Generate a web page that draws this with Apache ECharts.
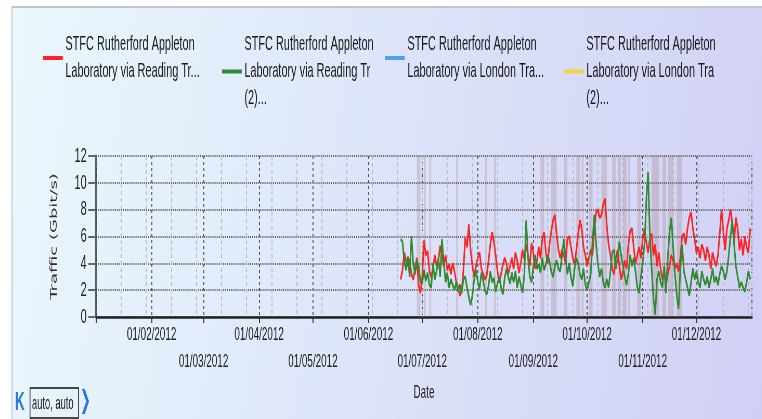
<!DOCTYPE html>
<html>
<head>
<meta charset="utf-8">
<script src="https://cdn.jsdelivr.net/npm/echarts@6/dist/echarts.min.js"></script>
<style>
html, body { margin: 0; padding: 0; background: #fff; overflow: hidden; }
#main { width: 1465px; height: 419px; transform: scaleX(0.52); transform-origin: 0 0; }
</style>
</head>
<body>
<div id="main"></div>
<script>
// the original screenshot is squeezed sideways, so the chart is drawn wide and scaled in x
var S = 0.52;

var seriesNames = [
    'STFC Rutherford Appleton Laboratory via Reading Tr...',
    'STFC Rutherford Appleton Laboratory via Reading Tr (2)...',
    'STFC Rutherford Appleton Laboratory via London Tra...',
    'STFC Rutherford Appleton Laboratory via London Tra (2)...'
];
var legendLabels = [
    'STFC Rutherford Appleton\nLaboratory via Reading Tr...',
    'STFC Rutherford Appleton\nLaboratory via Reading Tr\n(2)...',
    'STFC Rutherford Appleton\nLaboratory via London Tra...',
    'STFC Rutherford Appleton\nLaboratory via London Tra\n(2)...'
];
var colors = ['#ff2222', '#2e8b2e', '#4da3f0', '#f2d447'];

var yTicks = [0, 2, 4, 6, 8, 10, 12];

// daily traffic (Gbit/s), first value is 19/06/2012
var startDate = '2012-06-19';
var readingTr = [
    2.8, 3.5, 4.8, 4.2, 3.8, 4.3, 3.2, 2.8, 3.6, 4.4, 2.4, 1.8, 3.0, 5.7, 4.6, 4.9, 3.4, 3.0, 3.6, 4.6,
    3.8, 4.2, 5.3, 4.5, 3.8, 4.6, 3.5, 3.9, 3.2, 4.0, 3.4, 2.6, 2.2, 1.6, 1.9, 3.5, 5.9, 5.2, 6.9, 5.0,
    3.8, 3.0, 3.8, 4.4, 4.8, 3.6, 3.2, 2.8, 3.1, 4.2, 5.4, 6.3, 5.6, 4.6, 3.4, 2.6, 3.2, 3.9, 4.4, 4.0,
    3.2, 3.8, 4.4, 3.6, 4.8, 4.2, 3.3, 4.0, 5.0, 4.3, 5.4, 4.6, 3.8, 5.5, 4.8, 3.6, 4.2, 5.2, 4.4, 5.8,
    6.3, 4.8, 4.0, 5.4, 6.4, 7.2, 7.6, 6.2, 5.0, 4.4, 5.0, 4.6, 4.0, 5.8, 6.0, 5.2, 4.4, 3.9, 5.0, 6.2,
    7.2, 6.6, 5.2, 4.6, 3.8, 4.4, 5.0, 4.6, 6.4, 7.8, 8.0, 7.4, 7.6, 8.4, 8.8, 6.8, 5.4, 4.6, 3.6, 3.2,
    4.4, 5.0, 3.8, 2.8, 3.4, 4.2, 3.6, 5.4, 6.4, 6.6, 5.2, 4.0, 4.6, 5.2, 4.4, 5.8, 6.6, 5.6, 4.8, 5.8,
    6.2, 4.6, 5.4, 3.8, 4.8, 3.6, 2.8, 3.4, 2.4, 3.2, 3.8, 4.6, 4.2, 3.6, 4.0, 3.4, 4.4, 6.0, 6.2, 5.4,
    6.6, 7.4, 7.8, 6.6, 5.8, 4.8, 5.2, 4.4, 5.4, 5.0, 4.2, 5.2, 4.6, 3.6, 4.8, 4.2, 3.8, 4.6, 6.2, 8.0,
    6.4, 5.0, 6.6, 7.2, 8.0, 7.0, 5.6, 7.4, 6.6, 5.0, 5.8, 4.6, 6.0, 5.2, 4.8, 6.6
];
var readingTr2 = [
    5.8, 5.6, 4.2, 3.5, 4.5, 3.0, 6.0, 4.0, 3.2, 4.2, 3.8, 2.6, 2.5, 3.5, 2.7, 3.3, 2.4, 2.2, 4.0, 2.8,
    3.4, 4.4, 3.0, 5.8, 4.2, 2.6, 3.3, 2.2, 2.8, 2.4, 2.0, 2.6, 1.9, 2.4, 1.8, 2.8, 3.0, 2.2, 1.5, 0.9,
    1.6, 2.8, 3.5, 2.6, 2.1, 3.3, 2.7, 2.0, 1.7, 2.3, 3.4, 2.6, 2.9, 1.9, 2.5, 3.0, 2.2, 1.7, 2.9, 3.6,
    3.0, 2.5, 3.3, 2.6, 3.4, 2.2, 3.0, 2.4, 1.8, 3.2, 7.2, 4.5, 3.0, 2.6, 3.8, 4.6, 3.6, 3.9, 3.3, 4.4,
    3.5, 3.9, 4.6, 4.2, 3.4, 3.0, 3.8, 4.2, 3.6, 3.4, 4.6, 5.8, 4.4, 3.2, 4.0, 3.0, 2.3, 3.6, 4.4, 4.0,
    3.2, 2.8, 3.6, 2.4, 2.0, 2.6, 3.2, 5.6, 7.6, 5.4, 4.0, 3.0, 3.6, 2.6, 2.2, 2.8, 2.2, 3.4, 4.8, 5.0,
    3.6, 4.4, 5.6, 4.6, 3.8, 3.0, 2.4, 3.2, 4.6, 3.8, 4.4, 3.4, 2.2, 1.8, 3.0, 4.0, 5.4, 8.6, 10.8, 6.2,
    3.6, 1.4, 0.2, 2.8, 3.4, 2.6, 2.2, 3.8, 1.8, 4.4, 6.4, 7.4, 5.2, 3.2, 1.6, 0.6, 3.6, 5.4, 3.4, 2.8,
    2.2, 1.6, 2.6, 3.6, 2.8, 3.4, 2.6, 2.2, 3.4, 2.8, 2.4, 3.0, 2.2, 2.8, 3.6, 2.6, 3.0, 2.4, 3.2, 3.8,
    3.4, 2.8, 3.4, 4.6, 6.0, 7.2, 5.4, 3.8, 3.0, 2.2, 2.6, 2.2, 1.9, 2.6, 3.4, 2.8
];
var londonTra = [];
var londonTra2 = [];

// link outages shown as shaded bands
var outages = [
    ['2012-06-28', '2012-06-30'],
    ['2012-07-02', '2012-07-03'],
    ['2012-07-05', '2012-07-06'],
    ['2012-07-20', '2012-07-21'],
    ['2012-08-05', '2012-08-06'],
    ['2012-08-10', '2012-08-11'],
    ['2012-09-05', '2012-09-07'],
    ['2012-09-11', '2012-09-14'],
    ['2012-09-18', '2012-09-20'],
    ['2012-09-25', '2012-09-27'],
    ['2012-09-28', '2012-09-29'],
    ['2012-10-02', '2012-10-04'],
    ['2012-10-09', '2012-10-12'],
    ['2012-10-15', '2012-10-17'],
    ['2012-10-18', '2012-10-20'],
    ['2012-10-21', '2012-10-23'],
    ['2012-10-24', '2012-10-25'],
    ['2012-10-29', '2012-10-31'],
    ['2012-11-06', '2012-11-10'],
    ['2012-11-12', '2012-11-14'],
    ['2012-11-15', '2012-11-18'],
    ['2012-11-20', '2012-11-23']
];

var DAY = 86400000;

function toPairs(values) {
    var p = startDate.split('-');
    return values.map(function (v, i) {
        return [new Date(+p[0], +p[1] - 1, +p[2] + i).getTime(), v];
    });
}

function pad(n) {
    return n < 10 ? '0' + n : '' + n;
}

var myChart = echarts.init(document.getElementById('main'));
var W = myChart.getWidth();
var font = 'Liberation Sans';
var legendLeft = [43, 222, 385, 564];

var option = {
    animation: false,
    color: colors,
    textStyle: { fontFamily: font },
    graphic: [
        {
            type: 'rect', z: -10, silent: true,
            shape: { x: 12 / S, y: 7, width: W, height: 430 },
            style: {
                fill: new echarts.graphic.LinearGradient(0, 0, 1, 1, [
                    { offset: 0, color: '#eaf8fd' },
                    { offset: 1, color: '#d0cff5' }
                ]),
                stroke: '#c4c4c8', lineWidth: 2
            }
        },
        {
            type: 'text', left: 15 / S, top: 390,
            style: { text: 'K', fill: '#2a78dc', font: 'bold 26px ' + font }
        },
        {
            type: 'rect',
            shape: { x: 30 / S, y: 388, width: 48.5 / S, height: 30 },
            style: { fill: 'rgba(0,0,0,0)', stroke: '#111', lineWidth: 1.5 }
        },
        {
            type: 'text', left: 32 / S, top: 395,
            style: { text: 'auto, auto', fill: '#222', font: '18px ' + font }
        },
        {
            type: 'text', left: 80 / S, top: 389,
            style: { text: '❯', fill: '#2a78dc', font: 'bold 25px DejaVu Sans' }
        }
    ],
    legend: seriesNames.map(function (name, i) {
        return {
            data: [name],
            left: legendLeft[i] / S,
            top: 31,
            padding: 0,
            icon: 'rect',
            itemWidth: 38,
            itemHeight: 4,
            selectedMode: false,
            formatter: function () { return legendLabels[i]; },
            textStyle: { fontFamily: font, fontSize: 21, lineHeight: 27, color: '#1a1a1a' }
        };
    }),
    grid: { left: 96 / S, right: W - 752 / S, top: 156, bottom: 102 },
    xAxis: [
        {
            type: 'time',
            min: '2012-01-01',
            max: '2013-01-01',
            splitNumber: 12,
            minInterval: 28 * DAY,
            maxInterval: 31 * DAY,
            name: 'Date',
            nameLocation: 'middle',
            nameGap: 66,
            nameTextStyle: { fontFamily: font, fontSize: 19, color: '#222' },
            axisLine: { lineStyle: { color: '#222', width: 2.5 } },
            axisTick: { show: true, length: 6, lineStyle: { color: '#333', width: 2 } },
            axisLabel: {
                interval: 0,
                margin: 4,
                fontFamily: font,
                fontSize: 19,
                lineHeight: 27,
                color: '#222',
                formatter: function (value) {
                    var d = new Date(value);
                    var m = d.getMonth();
                    if (m === 0) return '';
                    var s = pad(d.getDate()) + '/' + pad(m + 1) + '/' + d.getFullYear();
                    return m % 2 === 1 ? s : '\n' + s;
                }
            },
            splitLine: { show: true, lineStyle: { color: '#555', width: 2, type: [3, 3] } }
        },
        {
            // fortnightly minor grid, counted in days from 01/01/2012
            type: 'value',
            min: 0,
            max: 366,
            interval: 14,
            position: 'bottom',
            axisLine: { show: false },
            axisTick: { show: false },
            axisLabel: { show: false },
            splitLine: { show: true, lineStyle: { color: '#b8bccc', width: 2, type: [4, 3] } }
        }
    ],
    yAxis: {
        type: 'value',
        min: yTicks[0],
        max: yTicks[yTicks.length - 1],
        interval: yTicks[1] - yTicks[0],
        name: 'Traffic (Gbit/s)',
        nameLocation: 'middle',
        nameGap: 71,
        nameTextStyle: { fontFamily: 'DejaVu Sans', fontSize: 18, color: '#3b2434' },
        axisLine: { show: true, lineStyle: { color: '#333', width: 2.5 } },
        axisTick: { show: true, length: 15, lineStyle: { color: '#666', width: 2 } },
        axisLabel: { margin: 18, fontFamily: font, fontSize: 21, color: '#222' },
        splitLine: { show: true, lineStyle: { color: '#666', width: 2, type: [2, 2] } }
    },
    series: [
        { name: seriesNames[0], type: 'line', showSymbol: false, lineStyle: { width: 3 }, data: toPairs(readingTr) },
        { name: seriesNames[1], type: 'line', showSymbol: false, lineStyle: { width: 3 }, data: toPairs(readingTr2) },
        { name: seriesNames[2], type: 'line', showSymbol: false, data: toPairs(londonTra) },
        { name: seriesNames[3], type: 'line', showSymbol: false, data: toPairs(londonTra2) },
        {
            name: 'outages',
            type: 'line',
            z: 5,
            data: [],
            markArea: {
                silent: true,
                itemStyle: { color: 'rgba(150, 105, 95, 0.24)' },
                data: outages.map(function (o) {
                    return [{ xAxis: o[0] }, { xAxis: o[1] }];
                })
            }
        }
    ]
};
myChart.setOption(option);
</script>
</body>
</html>
